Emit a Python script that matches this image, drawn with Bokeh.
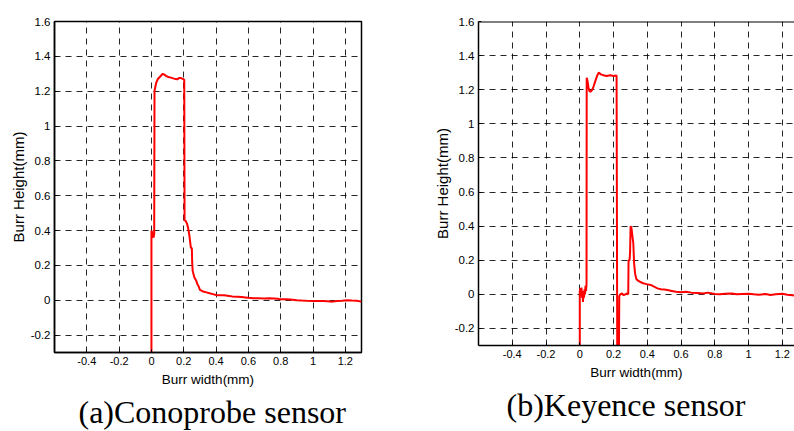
from bokeh.plotting import figure
from bokeh.layouts import row
from bokeh.models import (Range1d, FixedTicker, CustomJSTickFormatter, Title, Span)
from bokeh.embed import file_html
from bokeh.resources import INLINE

# ---- data ----
x_ticks = [-0.4, -0.2, 0.0, 0.2, 0.4, 0.6, 0.8, 1.0, 1.2]
y_ticks = [-0.2, 0.0, 0.2, 0.4, 0.6, 0.8, 1.0, 1.2, 1.4, 1.6]

cono_x = [0.000, 0.000, 0.004, 0.008, 0.013, 0.017, 0.019, 0.023, 0.030, 0.040,
          0.050, 0.060, 0.070, 0.080, 0.090, 0.100, 0.110, 0.120, 0.130, 0.140,
          0.150, 0.160, 0.170, 0.180, 0.190, 0.200, 0.203, 0.205, 0.212, 0.220,
          0.228, 0.235, 0.240, 0.244, 0.250, 0.252, 0.255, 0.260, 0.266, 0.272,
          0.278, 0.285, 0.292, 0.300, 0.310, 0.320, 0.340, 0.360, 0.380, 0.400,
          0.420, 0.450, 0.480, 0.500, 0.530, 0.560, 0.580, 0.600, 0.630, 0.660,
          0.700, 0.730, 0.760, 0.780, 0.800, 0.830, 0.860, 0.900, 0.930, 0.960,
          1.000, 1.030, 1.060, 1.090, 1.120, 1.150, 1.180, 1.210, 1.240, 1.270,
          1.300]
cono_y = [-0.35, 0.40, 0.39, 0.37, 0.36, 0.38, 1.20, 1.22, 1.25, 1.27,
          1.28, 1.29, 1.30, 1.295, 1.288, 1.283, 1.28, 1.278, 1.275, 1.272,
          1.27, 1.268, 1.275, 1.276, 1.272, 1.268, 1.265, 0.46, 0.455, 0.44,
          0.41, 0.37, 0.33, 0.30, 0.30, 0.22, 0.17, 0.15, 0.13, 0.12,
          0.11, 0.09, 0.08, 0.06, 0.055, 0.05, 0.045, 0.04, 0.035, 0.03,
          0.028, 0.028, 0.025, 0.022, 0.02, 0.018, 0.016, 0.014, 0.012, 0.012,
          0.01, 0.012, 0.01, 0.008, 0.005, 0.006, 0.004, 0.0, -0.002, -0.003,
          -0.004, -0.005, -0.004, -0.006, -0.008, -0.005, -0.003, 0.0, -0.002, -0.003,
          -0.008]

key_x = [0.000, 0.000, 0.004, 0.007, 0.010, 0.013, 0.016, 0.019, 0.022, 0.025,
         0.028, 0.031, 0.034, 0.037, 0.040, 0.041, 0.046, 0.052, 0.058, 0.066,
         0.074, 0.082, 0.092, 0.102, 0.112, 0.125, 0.140, 0.160, 0.180, 0.200,
         0.216, 0.218, 0.222, 0.232, 0.234, 0.240, 0.250, 0.260, 0.270, 0.280,
         0.287, 0.289, 0.295, 0.298, 0.301, 0.306, 0.312, 0.317, 0.322, 0.328,
         0.335, 0.345, 0.356, 0.375, 0.396, 0.420, 0.440, 0.460, 0.480, 0.500,
         0.520, 0.545, 0.570, 0.600, 0.630, 0.660, 0.700, 0.730, 0.760, 0.800,
         0.830, 0.860, 0.900, 0.930, 0.960, 1.000, 1.030, 1.060, 1.100, 1.130,
         1.160, 1.200, 1.230, 1.260, 1.300]
key_y = [-0.35, 0.02, 0.035, -0.01, 0.04, -0.02, 0.01, -0.045, 0.02, -0.02,
         0.03, 0.0, 0.05, 0.02, 0.06, 1.27, 1.25, 1.21, 1.19, 1.19,
         1.20, 1.22, 1.25, 1.28, 1.30, 1.29, 1.285, 1.28, 1.285, 1.28,
         1.283, 1.28, -0.35, -0.35, -0.01, 0.0, 0.005, -0.005, 0.0, 0.005,
         0.0, 0.2, 0.2, 0.25, 0.40, 0.39, 0.34, 0.30, 0.18, 0.12,
         0.09, 0.08, 0.074, 0.065, 0.06, 0.055, 0.045, 0.035, 0.03, 0.028,
         0.025, 0.02, 0.015, 0.012, 0.015, 0.01, 0.008, 0.005, 0.01, 0.002,
         0.0, 0.004, 0.005, 0.0, 0.002, 0.004, 0.0, -0.002, 0.002, -0.004,
         0.0, 0.004, -0.002, -0.005, -0.01]

captions = ["(a)Conoprobe sensor", "(b)Keyence sensor"]
x_label = "Burr width(mm)"
y_label = "Burr Height(mm)"

SANS = "Liberation Sans"
SERIF = "Liberation Serif"

fmt = CustomJSTickFormatter(code="""
    var s = tick.toFixed(1);
    if (s.endsWith('.0')) { s = s.slice(0, -2); }
    return s;
""")


def make(xs, ys, x_end, fw, fh, left, top, right, bottom, cap, cap_offset, outline):
    p = figure(frame_width=fw, frame_height=fh, output_backend="svg",
               toolbar_location=None, x_range=Range1d(-0.6, x_end),
               y_range=Range1d(-0.3, 1.6), min_border_left=left,
               min_border_top=top, min_border_right=right,
               min_border_bottom=bottom, background_fill_color="white",
               border_fill_color="white")
    p.line(xs, ys, line_color="#ff0000", line_width=2)
    for ax in (p.xaxis[0], p.yaxis[0]):
        ax.formatter = fmt
        ax.major_label_text_font = SANS
        ax.major_label_text_color = "black"
        ax.axis_label_text_font = SANS
        ax.axis_label_text_font_style = "normal"
        ax.axis_label_text_color = "black"
        ax.axis_line_color = "black"
        ax.axis_line_width = 1.5
        ax.major_tick_in = 3
        ax.major_tick_out = 0
        ax.major_tick_line_color = "black"
        ax.minor_tick_line_color = None
        ax.major_label_standoff = 4
    p.xaxis[0].major_label_text_font_size = "11px"
    p.yaxis[0].major_label_text_font_size = "11.5px"
    p.xaxis[0].axis_label_text_font_size = "13.5px"
    p.yaxis[0].axis_label_text_font_size = "15px"
    p.xaxis[0].axis_label_standoff = 4
    p.yaxis[0].axis_label_standoff = 1
    p.xaxis[0].ticker = FixedTicker(ticks=x_ticks)
    p.yaxis[0].ticker = FixedTicker(ticks=y_ticks)
    p.xaxis[0].axis_label = x_label
    p.yaxis[0].axis_label = y_label
    for g in (p.xgrid[0], p.ygrid[0]):
        g.grid_line_color = "black"
        g.grid_line_dash = "6 5"
        g.grid_line_width = 1
        g.grid_line_alpha = 0.85
    if outline:
        p.outline_line_color = "black"
        p.outline_line_width = 1.5
    else:
        p.outline_line_color = None
        p.add_layout(Span(location=1.6, dimension="width",
                          line_color="black", line_width=2))
    t = Title(text=cap, align="left", text_font=SERIF,
              text_font_size="32px", text_font_style="normal",
              text_color="black", offset=cap_offset, standoff=4)
    p.add_layout(t, "below")
    return p


p1 = make(cono_x, cono_y, 1.3, 307, 331, 54, 21, 63, 79, captions[0], 24, True)
p2 = make(key_x, key_y, 1.272, 316, 324, 54, 18, 0, 89, captions[1], 28, False)

p = row(p1, p2, spacing=0)
open("out.html", "w").write(file_html(p, INLINE))
